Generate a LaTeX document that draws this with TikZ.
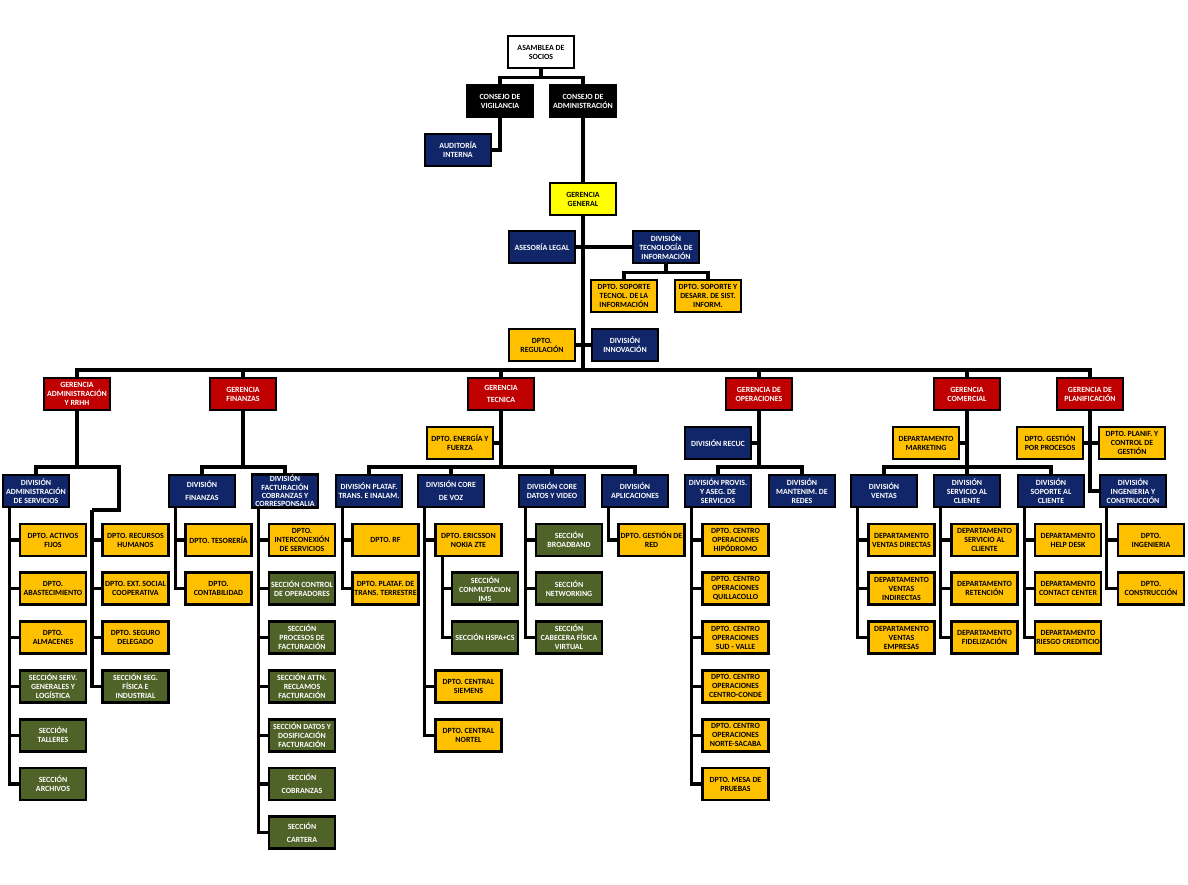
\documentclass[tikz,border=0pt]{standalone}
\usepackage{fontspec}
\setmainfont{Carlito}
\usetikzlibrary{backgrounds,shadows}
\definecolor{navyc}{RGB}{16,38,104}
\definecolor{redc}{RGB}{192,0,0}
\definecolor{orangec}{RGB}{255,192,0}
\definecolor{greenc}{RGB}{79,98,40}
\definecolor{yellowc}{RGB}{255,255,0}
\tikzset{
  box/.style={draw=black, line width=2.8pt, minimum width=66pt, minimum height=32pt,
    inner sep=0.5pt, align=center, font=\fontsize{7.9}{9}\selectfont\bfseries,
    drop shadow={shadow xshift=1.3pt, shadow yshift=-1.3pt, fill=black!25}},
  nv/.style={box, fill=navyc, text=white},
  rd/.style={box, fill=redc, text=white},
  og/.style={box, fill=orangec, text=black},
  gr/.style={box, fill=greenc, text=white},
  bk/.style={box, fill=black, text=white},
  wh/.style={box, fill=white, text=black},
  yl/.style={box, fill=yellowc, text=black},
  conn/.style={line width=3.2pt, draw=black},
}
\begin{document}
\begin{tikzpicture}[x=1pt,y=-1pt]
\useasboundingbox (0,0) rectangle (1188,885);
% ---------- top ----------
\node[wh] (asam) at (541,52) {ASAMBLEA DE\\SOCIOS};
\node[bk] (vig) at (500,101) {CONSEJO DE\\VIGILANCIA};
\node[bk] (cadm) at (583,101) {CONSEJO DE\\ADMINISTRACIÓN};
\node[nv] (aud) at (458,150) {AUDITORÍA\\INTERNA};
\node[yl] (gg) at (583,199) {GERENCIA\\GENERAL};
\node[nv] (legal) at (542,247) {ASESORÍA LEGAL};
\node[nv] (dti) at (666,247) {DIVISIÓN\\TECNOLOGÍA DE\\INFORMACIÓN};
\node[og] (dst) at (624,296) {DPTO. SOPORTE\\TECNOL. DE LA\\INFORMACIÓN};
\node[og] (dsd) at (708,296) {DPTO. SOPORTE Y\\DESARR. DE SIST.\\INFORM.};
\node[og] (reg) at (542,345) {DPTO.\\REGULACIÓN};
\node[nv] (inn) at (625,345) {DIVISIÓN\\INNOVACIÓN};
% ---------- gerencias ----------
\node[rd] (g1) at (77,394) {GERENCIA\\ADMINISTRACIÓN\\Y RRHH};
\node[rd] (g2) at (243,394) {GERENCIA\\FINANZAS};
\node[rd] (g3) at (501,394) {GERENCIA\\[3pt]TECNICA};
\node[rd] (g4) at (759,394) {GERENCIA DE\\OPERACIONES};
\node[rd] (g5) at (967,394) {GERENCIA\\COMERCIAL};
\node[rd] (g6) at (1090,394) {GERENCIA DE\\PLANIFICACIÓN};
% ---------- administracion ----------
\node[nv] (das) at (36,491) {DIVISIÓN\\ADMINISTRACIÓN\\DE SERVICIOS};
\node[og] (a1) at (53,540) {DPTO. ACTIVOS\\FIJOS};
\node[og] (a2) at (53,588.8) {DPTO.\\ABASTECIMIENTO};
\node[og] (a3) at (53,637.6) {DPTO.\\ALMACENES};
\node[gr] (a4) at (53,686.4) {SECCIÓN SERV.\\GENERALES Y\\LOGÍSTICA};
\node[gr] (a5) at (53,735.2) {SECCIÓN\\TALLERES};
\node[gr] (a6) at (53,784) {SECCIÓN\\ARCHIVOS};
\node[og] (b1) at (135.5,540) {DPTO. RECURSOS\\HUMANOS};
\node[og] (b2) at (135.5,588.8) {DPTO. EXT. SOCIAL\\COOPERATIVA};
\node[og] (b3) at (135.5,637.6) {DPTO. SEGURO\\DELEGADO};
\node[gr] (b4) at (135.5,686.4) {SECCIÓN SEG.\\FÍSICA E\\INDUSTRIAL};
% ---------- finanzas ----------
\node[nv] (dfin) at (202,491) {DIVISIÓN\\[4pt]FINANZAS};
\node[nv, font=\fontsize{7.9}{8.4}\selectfont\bfseries] (dfac) at (285,491) {DIVISIÓN\\FACTURACIÓN\\COBRANZAS Y\\CORRESPONSALIA};
\node[og] (f1) at (218.5,540) {DPTO. TESORERÍA};
\node[og] (f2) at (218.5,588.8) {DPTO.\\CONTABILIDAD};
\node[og] (h1) at (302,540) {DPTO.\\INTERCONEXIÓN\\DE SERVICIOS};
\node[gr] (h2) at (302,588.8) {SECCIÓN CONTROL\\DE OPERADORES};
\node[gr] (h3) at (302,637.6) {SECCIÓN\\PROCESOS DE\\FACTURACIÓN};
\node[gr] (h4) at (302,686.4) {SECCIÓN ATTN.\\RECLAMOS\\FACTURACIÓN};
\node[gr] (h5) at (302,735.2) {SECCIÓN DATOS Y\\DOSIFICACIÓN\\FACTURACIÓN};
\node[gr] (h6) at (302,784) {SECCIÓN\\[4pt]COBRANZAS};
\node[gr] (h7) at (302,832.8) {SECCIÓN\\[4pt]CARTERA};
% ---------- tecnica ----------
\node[og] (ener) at (460,443) {DPTO. ENERGÍA Y\\FUERZA};
\node[nv] (dpl) at (369,491) {DIVISIÓN PLATAF.\\TRANS. E INALAM.};
\node[nv] (dcv) at (451,491) {DIVISIÓN CORE\\[4pt]DE VOZ};
\node[nv] (dcd) at (552,491) {DIVISIÓN CORE\\DATOS Y VIDEO};
\node[nv] (dap) at (635,491) {DIVISIÓN\\APLICACIONES};
\node[og] (t1) at (385.5,540) {DPTO. RF};
\node[og] (t2) at (385.5,588.8) {DPTO. PLATAF. DE\\TRANS. TERRESTRE};
\node[og] (v1) at (468.5,540) {DPTO. ERICSSON\\NOKIA ZTE};
\node[gr] (v2) at (485,588.8) {SECCIÓN\\CONMUTACION\\IMS};
\node[gr] (v3) at (485,637.6) {SECCIÓN HSPA+CS};
\node[og] (v4) at (468.5,686.4) {DPTO. CENTRAL\\SIEMENS};
\node[og] (v5) at (468.5,735.2) {DPTO. CENTRAL\\NORTEL};
\node[gr] (d1) at (569,540) {SECCIÓN\\BROADBAND};
\node[gr] (d2) at (569,588.8) {SECCIÓN\\NETWORKING};
\node[gr] (d3) at (569,637.6) {SECCIÓN\\CABECERA FÍSICA\\VIRTUAL};
\node[og] (p1) at (651.5,540) {DPTO. GESTIÓN DE\\RED};
% ---------- operaciones ----------
\node[nv] (recuc) at (718,443) {DIVISIÓN RECUC};
\node[nv] (dpas) at (718,491) {DIVISIÓN PROVIS.\\Y ASEG. DE\\SERVICIOS};
\node[nv] (dmr) at (802,491) {DIVISIÓN\\MANTENIM. DE\\REDES};
\node[og] (o1) at (735.5,540) {DPTO. CENTRO\\OPERACIONES\\HIPÓDROMO};
\node[og] (o2) at (735.5,588.8) {DPTO. CENTRO\\OPERACIONES\\QUILLACOLLO};
\node[og] (o3) at (735.5,637.6) {DPTO. CENTRO\\OPERACIONES\\SUD - VALLE};
\node[og] (o4) at (735.5,686.4) {DPTO. CENTRO\\OPERACIONES\\CENTRO-CONDE};
\node[og] (o5) at (735.5,735.2) {DPTO. CENTRO\\OPERACIONES\\NORTE-SACABA};
\node[og] (o6) at (735.5,784) {DPTO. MESA DE\\PRUEBAS};
% ---------- comercial ----------
\node[og] (mkt) at (926,443) {DEPARTAMENTO\\MARKETING};
\node[nv] (dven) at (884,491) {DIVISIÓN\\VENTAS};
\node[nv] (dsc) at (967,491) {DIVISIÓN\\SERVICIO AL\\CLIENTE};
\node[nv] (dsop) at (1051,491) {DIVISIÓN\\SOPORTE AL\\CLIENTE};
\node[og] (c1) at (901.5,540) {DEPARTAMENTO\\VENTAS DIRECTAS};
\node[og] (c2) at (901.5,588.8) {DEPARTAMENTO\\VENTAS\\INDIRECTAS};
\node[og] (c3) at (901.5,637.6) {DEPARTAMENTO\\VENTAS\\EMPRESAS};
\node[og] (s1) at (984.5,540) {DEPARTAMENTO\\SERVICIO AL\\CLIENTE};
\node[og] (s2) at (984.5,588.8) {DEPARTAMENTO\\RETENCIÓN};
\node[og] (s3) at (984.5,637.6) {DEPARTAMENTO\\FIDELIZACIÓN};
\node[og] (k1) at (1068,540) {DEPARTAMENTO\\HELP DESK};
\node[og] (k2) at (1068,588.8) {DEPARTAMENTO\\CONTACT CENTER};
\node[og] (k3) at (1068,637.6) {DEPARTAMENTO\\RIESGO CREDITICIO};
% ---------- planificacion ----------
\node[og] (gpp) at (1050,443) {DPTO. GESTIÓN\\POR PROCESOS};
\node[og] (pcg) at (1132,443) {DPTO. PLANIF. Y\\CONTROL DE\\GESTIÓN};
\node[nv] (ding) at (1133,491) {DIVISIÓN\\INGENIERIA Y\\CONSTRUCCIÓN};
\node[og] (i1) at (1151,540) {DPTO.\\INGENIERIA};
\node[og] (i2) at (1151,588.8) {DPTO.\\CONSTRUCCIÓN};
% ---------- coordinates ----------
\coordinate (bar) at (583,370);
\coordinate (ha) at (77,467);
\coordinate (hf) at (243,467);
\coordinate (ht) at (501,467);
\coordinate (ho) at (759,467);
\coordinate (hc) at (967,467);
\coordinate (aj) at (119,510);
\coordinate (bcol) at (92,510);
\coordinate (dasc) at ([xshift=8pt]das.south west);
\coordinate (dfinc) at ([xshift=8pt]dfin.south west);
\coordinate (dfacc) at ([xshift=8pt]dfac.south west);
\coordinate (dplc) at ([xshift=8pt]dpl.south west);
\coordinate (dcvc) at ([xshift=8pt]dcv.south west);
\coordinate (v1c) at ([xshift=8pt]v1.south west);
\coordinate (dcdc) at ([xshift=8pt]dcd.south west);
\coordinate (dapc) at ([xshift=8pt]dap.south west);
\coordinate (dpasc) at ([xshift=8pt]dpas.south west);
\coordinate (dvenc) at ([xshift=8pt]dven.south west);
\coordinate (dscc) at ([xshift=8pt]dsc.south west);
\coordinate (dsopc) at ([xshift=8pt]dsop.south west);
\coordinate (dingc) at ([xshift=8pt]ding.south west);
% ---------- connectors ----------
\begin{pgfonlayer}{background}
\fill[white] (0,0) rectangle (1188,885);
\draw[conn] (asam.south) -- ++(0,8) -| (vig.north);
\draw[conn] (asam.south) -- ++(0,8) -| (cadm.north);
\draw[conn] (vig.south) |- (aud.east);
\draw[conn] (cadm.south) -- (gg.north);
\draw[conn] (gg.south) -- (bar);
\draw[conn] (legal.east) -- (dti.west);
\draw[conn] (dti.south) -- ++(0,8) -| (dst.north);
\draw[conn] (dti.south) -- ++(0,8) -| (dsd.north);
\draw[conn] (reg.east) -- (inn.west);
\draw[conn] (g1.north) |- (bar) -| (g6.north);
\foreach \g in {g2,g3,g4,g5} \draw[conn] (\g.north) -- (\g.north |- bar);
% administracion
\draw[conn] (g1.south) -- (ha);
\draw[conn] (das.north) |- (ha) -| (aj) -- (bcol);
\foreach \c in {a1,a2,a3,a4,a5,a6} \draw[conn] (dasc) |- (\c.west);
\foreach \c in {b1,b2,b3,b4} \draw[conn] (bcol) |- (\c.west);
% finanzas
\draw[conn] (g2.south) -- (hf);
\draw[conn] (dfin.north) |- (hf) -| (dfac.north);
\foreach \c in {f1,f2} \draw[conn] (dfinc) |- (\c.west);
\foreach \c in {h1,h2,h3,h4,h5,h6,h7} \draw[conn] (dfacc) |- (\c.west);
% tecnica
\draw[conn] (g3.south) -- (ht);
\draw[conn] (ener.east) -- (ener.east -| ht);
\draw[conn] (dpl.north) |- (ht) -| (dap.north);
\draw[conn] (dcv.north) -- (dcv.north |- ht);
\draw[conn] (dcd.north) -- (dcd.north |- ht);
\foreach \c in {t1,t2} \draw[conn] (dplc) |- (\c.west);
\foreach \c in {v1,v4,v5} \draw[conn] (dcvc) |- (\c.west);
\foreach \c in {v2,v3} \draw[conn] (v1c) |- (\c.west);
\foreach \c in {d1,d2,d3} \draw[conn] (dcdc) |- (\c.west);
\draw[conn] (dapc) |- (p1.west);
% operaciones
\draw[conn] (g4.south) -- (ho);
\draw[conn] (recuc.east) -- (recuc.east -| ho);
\draw[conn] (dpas.north) |- (ho) -| (dmr.north);
\foreach \c in {o1,o2,o3,o4,o5,o6} \draw[conn] (dpasc) |- (\c.west);
% comercial
\draw[conn] (g5.south) -- (dsc.north);
\draw[conn] (mkt.east) -- (mkt.east -| hc);
\draw[conn] (dven.north) |- (hc) -| (dsop.north);
\foreach \c in {c1,c2,c3} \draw[conn] (dvenc) |- (\c.west);
\foreach \c in {s1,s2,s3} \draw[conn] (dscc) |- (\c.west);
\foreach \c in {k1,k2,k3} \draw[conn] (dsopc) |- (\c.west);
% planificacion
\draw[conn] (g6.south) |- (ding.west);
\draw[conn] (gpp.east) -- (pcg.west);
\foreach \c in {i1,i2} \draw[conn] (dingc) |- (\c.west);
\end{pgfonlayer}
\end{tikzpicture}
\end{document}
